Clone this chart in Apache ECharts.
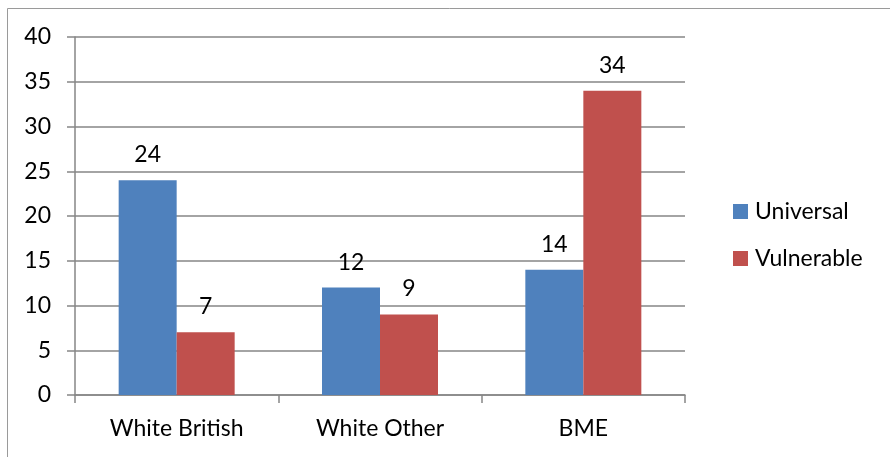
<!DOCTYPE html>
<html>
<head>
<meta charset="utf-8">
<script src="https://cdn.jsdelivr.net/npm/echarts@6/dist/echarts.min.js"></script>
<style>
  html, body { margin: 0; padding: 0; background: #fff; }
  #chart { width: 890px; height: 457px; }
</style>
</head>
<body>
<div id="chart"></div>
<script>
// 데이터
const categories = ['White British', 'White Other', 'BME'];
const universal = [24, 12, 14];
const vulnerable = [7, 9, 34];
const yTicks = [0, 5, 10, 15, 20, 25, 30, 35, 40];

const chart = echarts.init(document.getElementById('chart'));

const font = 'Lato, "Open Sans", sans-serif';
const gridColor = '#868686';
const fontSize = 23;

const labelStyle = {
    show: true,
    position: 'top',
    distance: 14,
    fontSize: fontSize,
    fontFamily: font,
    color: '#000'
};

const option = {
    animation: false,
    graphic: [{
        type: 'rect',
        shape: { x: 7.5, y: 8.5, width: 900, height: 470 },
        style: { fill: 'none', stroke: '#9a9a9a', lineWidth: 1 },
        silent: true
    }],
    legend: {
        orient: 'vertical',
        left: 728,
        top: 195,
        itemWidth: 15,
        itemHeight: 15,
        itemGap: 24,
        icon: 'rect',
        textStyle: { fontSize: fontSize, fontFamily: font, color: '#000', padding: [0, 0, 0, 2] },
        data: ['Universal', 'Vulnerable']
    },
    grid: { left: 75, right: 205, top: 37, bottom: 62 },
    xAxis: {
        type: 'category',
        data: categories,
        axisLine: { lineStyle: { color: gridColor, width: 1.5 } },
        axisTick: { show: true, length: 8, lineStyle: { color: gridColor, width: 1.5 } },
        axisLabel: { fontSize: fontSize, fontFamily: font, color: '#000', margin: 22 }
    },
    yAxis: {
        type: 'value',
        min: yTicks[0],
        max: yTicks[yTicks.length - 1],
        interval: 5,
        axisLine: { show: true, lineStyle: { color: gridColor, width: 1.5 } },
        axisTick: { show: true, length: 8, lineStyle: { color: gridColor, width: 1.5 } },
        splitLine: { lineStyle: { color: gridColor, width: 1.5 } },
        axisLabel: { fontSize: fontSize, fontFamily: font, color: '#000', margin: 24 }
    },
    series: [
        {
            name: 'Universal',
            type: 'bar',
            data: universal,
            barWidth: 58,
            barGap: '0%',
            itemStyle: { color: '#4f81bd' },
            label: labelStyle
        },
        {
            name: 'Vulnerable',
            type: 'bar',
            data: vulnerable,
            barWidth: 58,
            barGap: '0%',
            itemStyle: { color: '#c0504d' },
            label: labelStyle
        }
    ]
};

chart.setOption(option);
</script>
</body>
</html>
